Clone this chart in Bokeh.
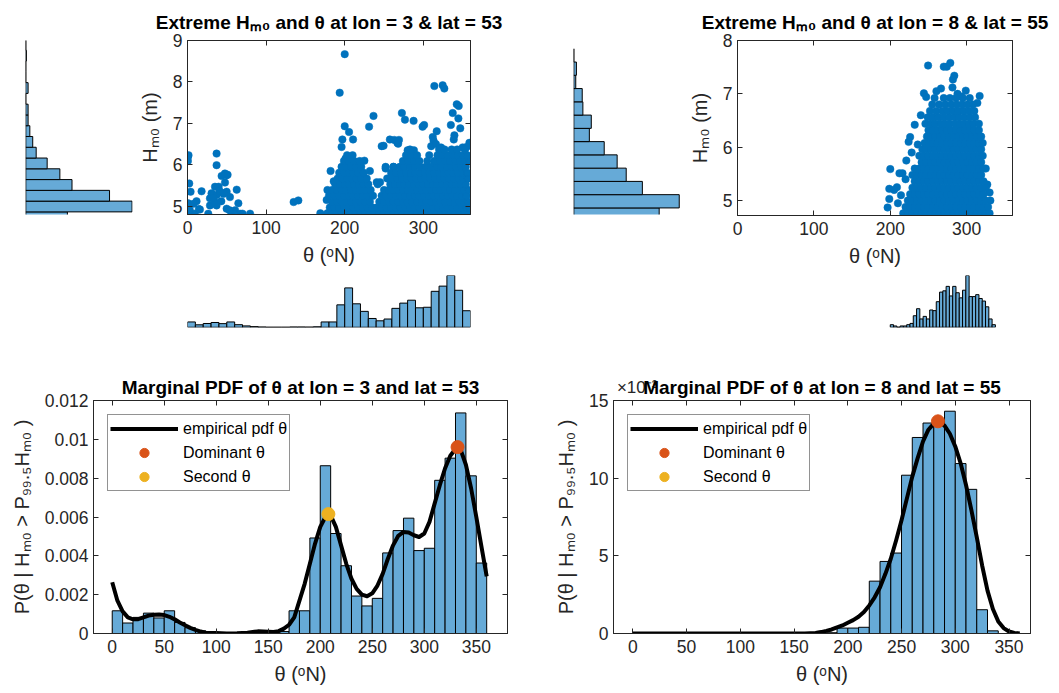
import numpy as np
from bokeh.plotting import figure
from bokeh.layouts import row, column
from bokeh.models import (Range1d, LinearAxis, FixedTicker, CustomJSTickFormatter,
                          Legend, LegendItem, Title)
from bokeh.embed import file_html
from bokeh.resources import INLINE

# ======================= DATA =======================
# ---- Top-left: extreme Hm0 vs theta at lon = 3, lat = 53 ----
sc1_west = [(0.5, 6.19), (0.5, 6.09), (1.3, 6.23), (37, 6.27), (37, 5.99), (2.2, 5.55),
            (3.9, 5.35), (17.9, 5.36), (35, 5.47), (43.4, 5.73), (49.8, 5.75), (47.7, 5.57),
            (62.6, 5.40), (30.6, 5.31), (28.6, 5.19), (32.8, 5.23), (37, 5.27), (11.5, 5.12),
            (0.9, 5.07), (45.6, 5.31), (49.8, 5.35), (54, 5.22), (28.6, 5.02), (37, 5.02),
            (35, 5.10), (64.7, 5.07), (3, 4.90), (15.8, 4.92), (9.4, 4.82), (26.4, 4.82),
            (49.8, 4.94), (56, 4.86), (60.5, 4.90), (66.8, 4.82), (79.6, 4.82), (135, 5.10),
            (141, 5.14), (7.7, 5.06), (14.5, 4.93), (1.7, 4.90), (43, 5.12), (46, 5.30),
            (39.6, 5.47), (40.8, 5.37), (33, 5.20), (53.6, 4.90), (70, 4.82), (47.6, 5.79),
            (51, 5.76)]
sc1_peaks = [(200, 8.67), (193.6, 7.74), (200, 6.93), (205.5, 6.79), (197, 6.61), (196, 6.43),
             (210.6, 6.61), (236.6, 7.18), (231, 6.92), (247, 6.45), (249.4, 6.46), (257.4, 6.61),
             (263, 6.60), (314, 7.90), (324.6, 7.92), (326.7, 7.84), (272.7, 7.25), (276.6, 7.09),
             (287.6, 7.06), (299, 6.92), (301, 6.96), (342.5, 7.46), (345, 7.42), (337.4, 7.25),
             (344.6, 7.12), (335, 6.96), (347, 6.88), (317, 6.81), (339.5, 6.71), (338.7, 6.61),
             (312, 6.67), (267, 6.53), (268, 6.51), (280, 6.35), (313, 6.58), (322.5, 6.42),
             (358.6, 6.53), (350, 6.42), (355, 6.43), (359.5, 6.17), (169, 4.83), (178, 5.39),
             (177, 5.15), (201, 6.15), (218, 6.03), (252, 5.91), (262, 5.95), (240.7, 5.58),
             (245, 5.58), (288, 6.35), (291, 6.20), (307.5, 6.23), (310, 6.45), (316, 6.50),
             (269, 6.60), (225, 6.10), (232, 5.85), (186, 5.60), (182, 5.85)]
# dense core: each row lists the directions of points found near one Hm0 level
sc1_core_h = [4.83, 4.97, 5.11, 5.25, 5.39, 5.53, 5.67, 5.81, 5.95, 6.09, 6.23, 6.37]
sc1_core_theta = [
    [178, 184, 190, 196, 202, 208, 214, 220, 226, 232, 238, 244, 250, 256, 262, 268, 274, 280, 286, 292, 298, 304, 310, 316, 322, 328, 334, 340, 346, 352, 358],
    [181, 187, 193, 199, 205, 211, 217, 223, 229, 235, 241, 247, 253, 259, 265, 271, 277, 283, 289, 295, 301, 307, 313, 319, 325, 331, 337, 343, 349, 355, 359],
    [184, 190, 196, 202, 208, 214, 220, 226, 232, 244, 250, 256, 262, 268, 274, 280, 286, 292, 298, 304, 310, 316, 322, 328, 334, 340, 346, 352, 357],
    [180, 187, 193, 199, 205, 211, 217, 223, 229, 236, 247, 253, 259, 265, 271, 277, 283, 289, 295, 301, 307, 313, 319, 325, 331, 337, 343, 349, 355],
    [184, 190, 196, 202, 208, 214, 220, 226, 233, 250, 256, 262, 268, 274, 280, 286, 292, 298, 304, 310, 316, 322, 328, 334, 340, 346, 352, 358],
    [188, 194, 200, 206, 212, 218, 224, 230, 242, 258, 264, 270, 276, 282, 288, 294, 300, 306, 312, 318, 324, 330, 336, 342, 348, 354],
    [191, 197, 203, 209, 215, 221, 228, 254, 261, 267, 273, 279, 285, 291, 297, 303, 309, 315, 321, 327, 333, 339, 345, 351, 357],
    [193, 199, 205, 211, 217, 224, 259, 265, 272, 278, 284, 290, 296, 302, 308, 314, 320, 326, 332, 338, 344, 350, 356],
    [196, 202, 208, 214, 221, 252, 262, 270, 276, 283, 289, 296, 303, 310, 317, 323, 330, 336, 342, 348, 354],
    [199, 205, 212, 219, 274, 281, 288, 295, 305, 314, 321, 328, 334, 341, 347, 353, 359],
    [203, 210, 278, 285, 292, 318, 325, 331, 338, 344, 350, 356],
    [283, 320, 327, 336, 343, 353],
]
# Hm0 marginal histogram (left), bin edges (m) and counts
hl1_edges = [4.603, 4.863, 5.123, 5.383, 5.643, 5.903, 6.163, 6.423, 6.683, 6.943,
             7.203, 7.463, 7.723, 7.983, 8.243, 8.503, 8.763, 9.023]
hl1_counts = [72, 184, 145, 80, 59, 37, 18, 12, 7, 4, 4, 0, 4, 0, 0, 1, 0]

# ---- Top-right: extreme Hm0 vs theta at lon = 8, lat = 55 ----
sc2_peaks = [(249.5, 7.53), (270, 7.51), (274, 7.51), (278.6, 7.58), (283.8, 7.34), (282, 7.27),
             (281.4, 7.12), (244, 7.01), (247, 6.94), (260.4, 7.05), (266.4, 7.10), (298.8, 7.06),
             (317, 6.96), (314, 6.83), (232, 6.42), (226, 6.19), (224, 6.10), (200, 5.59),
             (212, 5.51), (216, 5.51), (208.7, 5.25), (198.7, 5.22), (198.7, 5.03), (196.5, 4.87),
             (205, 5.20), (331, 5.00), (221, 5.75), (228, 5.90), (236, 6.05), (210, 4.95),
             (214, 5.10), (220, 5.40), (288, 7.00), (293, 6.95), (240, 6.60), (325, 5.60),
             (327, 5.30), (330, 5.15)]
sc2_core_h = [4.76, 4.88, 5.00, 5.12, 5.24, 5.36, 5.48, 5.60, 5.72, 5.84, 5.96, 6.08, 6.20,
              6.32, 6.44, 6.56, 6.68, 6.80, 6.92]
sc2_core_theta = [
    [217, 223, 229, 235, 241, 247, 253, 259, 265, 271, 277, 283, 289, 295, 301, 307, 313, 319, 325, 330],
    [220, 226, 232, 238, 244, 250, 256, 262, 268, 274, 280, 286, 292, 298, 304, 310, 316, 322, 328],
    [223, 229, 235, 241, 247, 253, 259, 265, 271, 277, 283, 289, 295, 301, 307, 313, 319, 325],
    [226, 232, 238, 244, 250, 256, 262, 268, 274, 280, 286, 292, 298, 304, 310, 316, 322],
    [229, 235, 241, 247, 253, 259, 265, 271, 277, 283, 289, 295, 301, 307, 313, 319, 325],
    [232, 238, 244, 250, 256, 262, 268, 274, 280, 286, 292, 298, 304, 310, 316, 322],
    [229, 235, 241, 247, 253, 259, 265, 271, 277, 283, 289, 295, 301, 307, 313, 319],
    [232, 238, 244, 250, 256, 262, 268, 274, 280, 286, 292, 298, 304, 310, 316, 322],
    [241, 247, 253, 259, 265, 271, 277, 283, 289, 295, 301, 307, 313, 319],
    [238, 244, 250, 256, 262, 268, 274, 280, 286, 292, 298, 304, 310, 316, 321],
    [242, 247, 253, 259, 265, 271, 277, 283, 289, 295, 301, 307, 313, 319],
    [245, 251, 256, 262, 268, 274, 280, 286, 292, 298, 304, 310, 316, 321],
    [248, 253, 259, 265, 271, 277, 283, 289, 295, 301, 307, 313, 319],
    [250, 256, 262, 268, 274, 280, 286, 292, 298, 304, 310, 316],
    [246, 253, 259, 266, 272, 278, 285, 291, 297, 303, 309, 316],
    [249, 256, 263, 270, 277, 284, 290, 297, 304, 311],
    [252, 260, 268, 275, 282, 289, 296, 303, 310],
    [255, 264, 272, 280, 287, 294, 301, 308],
    [258, 270, 278, 286, 295, 304],
]
hl2_edges = [4.594, 4.844, 5.094, 5.344, 5.594, 5.844, 6.094, 6.344, 6.594, 6.844,
             7.094, 7.344, 7.594, 7.844]
hl2_counts = [132, 163, 106, 81, 67, 47, 24, 27, 14, 13, 3, 4, 0]
# fine direction histogram under top-right scatter (bins start at 200 deg)
hb2_edges = [200.0, 204.3, 208.6, 212.9, 217.2, 221.5, 225.8, 230.1, 234.4, 238.7, 243.0,
             247.3, 251.6, 255.9, 260.2, 264.5, 268.8, 273.1, 277.4, 281.7, 286.0, 290.3,
             294.6, 298.9, 303.2, 307.5, 311.8, 316.1, 320.4, 324.7, 329.0, 333.3, 337.6]
hb2_counts = [4, 2, 0, 2, 2, 4, 6, 18, 29, 13, 17, 13, 27, 26, 40, 55, 57, 64, 49, 64, 54, 46,
              58, 81, 48, 48, 51, 45, 41, 32, 13, 4]

# ---- Bottom: marginal pdf of theta (10-degree bins) ----
theta_edges = [0, 10, 20, 30, 40, 50, 60, 70, 80, 90, 100, 110, 120, 130, 140, 150, 160, 170,
               180, 190, 200, 210, 220, 230, 240, 250, 260, 270, 280, 290, 300, 310, 320, 330,
               340, 350, 360]
pdf1_hist = [0.00117, 0.00054, 0.00083, 0.00105, 0.00080, 0.00117, 0.00057, 0.00030, 0.00014,
             0.00005, 0.0, 0.0, 0.0, 0.00005, 0.00005, 0.00003, 0.00010, 0.00117, 0.00117,
             0.00492, 0.00864, 0.00515, 0.00349, 0.00193, 0.00142, 0.00181, 0.00415, 0.00530,
             0.00594, 0.00427, 0.00439, 0.00789, 0.00903, 0.01136, 0.00812, 0.00363]
# pdf values at lon 8 / lat 55 in units of 1e-3
pdf2_hist = [0, 0, 0, 0, 0, 0, 0, 0, 0, 0, 0, 0, 0, 0, 0, 0, 0, 0, 0.05, 0.35, 0.35, 0.40,
             3.37, 4.64, 5.18, 10.19, 12.62, 13.55, 13.40, 14.31, 10.94, 9.28, 1.53, 0.17, 0, 0]

kde1_theta = [0, 5, 10, 15, 20, 25, 30, 35, 40, 45, 50, 55, 60, 65, 70, 75, 80, 85, 90, 100,
              110, 120, 130, 140, 150, 155, 160, 165, 170, 175, 180, 185, 190, 195, 200, 205,
              208, 210, 215, 220, 225, 230, 235, 240, 245, 250, 255, 260, 265, 270, 275, 280,
              285, 290, 295, 300, 305, 310, 315, 320, 325, 330, 332, 335, 340, 345, 350, 355, 360]
kde1_pdf = [0.00264, 0.00169, 0.00114, 0.00083, 0.00073, 0.00074, 0.00083, 0.00092, 0.00097,
            0.00098, 0.00095, 0.00086, 0.00073, 0.00057, 0.00043, 0.00029, 0.00019, 0.00010,
            0.00003, 0.00002, 0.0, 0.00001, 0.00004, 0.00011, 0.00009, 0.00008, 0.00012,
            0.00025, 0.00045, 0.00083, 0.00169, 0.00256, 0.00359, 0.00463, 0.00549, 0.00601,
            0.00615, 0.00608, 0.00549, 0.00454, 0.00359, 0.00282, 0.00230, 0.00200, 0.00192,
            0.00207, 0.00247, 0.00307, 0.00385, 0.00454, 0.00503, 0.00523, 0.00520, 0.00506,
            0.00497, 0.00515, 0.00575, 0.00670, 0.00765, 0.00851, 0.00915, 0.00950, 0.00960,
            0.00946, 0.00869, 0.00748, 0.00601, 0.00446, 0.00294]
kde2_theta = [0, 20, 40, 60, 80, 100, 120, 140, 160, 165, 170, 175, 180, 185, 190, 195, 200,
              205, 210, 215, 220, 225, 230, 235, 240, 245, 250, 255, 260, 265, 270, 275, 280,
              284, 285, 290, 295, 300, 305, 310, 315, 320, 325, 330, 335, 340, 345, 350, 355, 360]
kde2_pdf = [0, 0, 0, 0, 0, 0, 0, 0, 0, 0.02, 0.04, 0.09, 0.17, 0.26, 0.39, 0.52, 0.69, 0.86,
            1.08, 1.38, 1.81, 2.33, 2.98, 3.84, 4.81, 6.00, 7.29, 8.70, 10.10, 11.29, 12.37,
            13.12, 13.51, 13.66, 13.64, 13.38, 12.86, 12.04, 10.96, 9.56, 7.94, 6.21, 4.38,
            2.76, 1.58, 0.78, 0.35, 0.13, 0.04, 0.0]
dom1 = (332, 0.0096)
sec1 = (207.8, 0.00615)
dom2 = (283.9, 13.66)
sec2 = (float("nan"), float("nan"))   # no secondary direction at lon 8 / lat 55

# ======================= STYLE =======================
FONT = "Liberation Sans"
AX = "#262626"
BAR = "#66AAD7"
BLUE = "#0072BD"
ORANGE = "#D95319"
YELLOW = "#EDB120"


def fig(w, h, xr, yr, ml, mr, mt, mb, axes=True, title=None):
    kw = dict(width=w, height=h, x_range=Range1d(*xr), y_range=Range1d(*yr),
              output_backend="svg", toolbar_location=None,
              min_border_left=ml, min_border_right=mr, min_border_top=mt, min_border_bottom=mb)
    if not axes:
        kw.update(x_axis_type=None, y_axis_type=None)
    if title is None:
        kw["title"] = None
    p = figure(**kw)
    if title is not None:
        p.title.text = title
        p.title.align = "center"
        p.title.text_font = FONT
        p.title.text_font_size = "19px"
        p.title.text_font_style = "bold"
        p.title.text_color = "black"
    p.grid.visible = False
    p.background_fill_color = "white"
    p.border_fill_color = "white"
    p.outline_line_color = AX if axes else None
    return p


def style_axes(p, xticks, yticks, xlabel, ylabel, yfmt=None):
    p.xaxis.ticker = FixedTicker(ticks=xticks)
    p.yaxis.ticker = FixedTicker(ticks=yticks)
    if yfmt is not None:
        p.yaxis.formatter = yfmt
    p.xaxis.axis_label = xlabel
    p.yaxis.axis_label = ylabel
    for ax in list(p.xaxis) + list(p.yaxis):
        ax.axis_line_color = AX
        ax.major_tick_line_color = AX
        ax.minor_tick_line_color = None
        ax.major_tick_in = 5
        ax.major_tick_out = 0
        ax.major_label_text_font = FONT
        ax.major_label_text_font_size = "17.5px"
        ax.major_label_text_color = AX
        ax.axis_label_text_font = FONT
        ax.axis_label_text_font_size = "20px"
        ax.axis_label_text_font_style = "normal"
        ax.axis_label_text_color = AX
    p.xaxis.major_label_standoff = 6
    p.yaxis.major_label_standoff = 5
    p.xaxis.axis_label_standoff = 7
    p.yaxis.axis_label_standoff = 9
    blank = CustomJSTickFormatter(code="return ''")
    for loc, ticks in (("above", xticks), ("right", yticks)):
        ax = LinearAxis(ticker=FixedTicker(ticks=ticks), formatter=blank,
                        axis_line_color=AX, major_tick_line_color=AX,
                        minor_tick_line_color=None, major_tick_in=5, major_tick_out=0,
                        major_label_text_font_size="1px", major_label_standoff=0)
        p.add_layout(ax, loc)


def expand(west, peaks, core_h, core_theta):
    th = [t for t, _ in west] + [t for t, _ in peaks]
    hh = [h for _, h in west] + [h for _, h in peaks]
    for h, row_t in zip(core_h, core_theta):
        th += row_t
        hh += [h] * len(row_t)
    return th, hh


THETA_LABEL = "θ (ᵒN)"

# ---------------- top-left ----------------
hl1 = fig(135, 340, (-0.5, max(hl1_counts) * 1.004), (4.8, 9.0), 25, 3, 40, 126, axes=False)
hl1.quad(left=0, right=hl1_counts, bottom=hl1_edges[:-1], top=hl1_edges[1:],
         fill_color=BAR, line_color="black", line_width=1)

sc1 = fig(395, 275, (0, 360), (4.8, 9.0), 52, 60, 40, 61,
          title="Extreme Hₘ₀ and θ at lon = 3 & lat = 53")
sc1.title.standoff = 15
t1, h1 = expand(sc1_west, sc1_peaks, sc1_core_h, sc1_core_theta)
sc1.scatter(t1, h1, size=7.5, fill_color=BLUE, line_color=BLUE, line_width=0.5)
style_axes(sc1, [0, 100, 200, 300], [5, 6, 7, 8, 9], THETA_LABEL, "Hₘ₀ (m)")

hb1 = fig(395, 65, (0, 360), (-0.00005, max(pdf1_hist)), 52, 60, 0, 13, axes=False)
hb1.quad(left=theta_edges[:-1], right=theta_edges[1:], bottom=0, top=pdf1_hist,
         fill_color=BAR, line_color="black", line_width=1)

# ---------------- top-right ----------------
hl2 = fig(155, 340, (-0.5, max(hl2_counts) * 1.012), (4.72, 8.0), 43, 5, 40, 125, axes=False)
hl2.quad(left=0, right=hl2_counts, bottom=hl2_edges[:-1], top=hl2_edges[1:],
         fill_color=BAR, line_color="black", line_width=1)

sc2 = fig(374, 275, (0, 360), (4.72, 8.0), 48, 47, 40, 60,
          title="Extreme Hₘ₀ and θ at lon = 8 & lat = 55")
sc2.title.standoff = 15
t2, h2 = expand([], sc2_peaks, sc2_core_h, sc2_core_theta)
sc2.scatter(t2, h2, size=7.5, fill_color=BLUE, line_color=BLUE, line_width=0.5)
style_axes(sc2, [0, 100, 200, 300], [5, 6, 7, 8], THETA_LABEL, "Hₘ₀ (m)")

hb2 = fig(374, 65, (0, 360), (-0.4, max(hb2_counts)), 48, 47, 0, 13, axes=False)
hb2.quad(left=hb2_edges[:-1], right=hb2_edges[1:], bottom=0, top=hb2_counts,
         fill_color=BAR, line_color="black", line_width=1)

# ---------------- bottom ----------------
YLAB = "P(θ | Hₘ₀ > P₉₉.₅Hₘ₀ )"


def pdf_panel(w, ml, mr, xr, yr, hist, kth, kpdf, dom, sec, yticks, yfmt):
    p = fig(w, 353, xr, yr, ml, mr, 60, 60)
    p.quad(left=theta_edges[:-1], right=theta_edges[1:], bottom=0, top=hist,
           fill_color=BAR, line_color="black", line_width=1)
    rl = p.line(kth, kpdf, line_color="black", line_width=4, line_join="round")
    rd = p.scatter([dom[0]], [dom[1]], size=13, fill_color=ORANGE, line_color=ORANGE)
    rs = p.scatter([sec[0]], [sec[1]], size=13, fill_color=YELLOW, line_color=YELLOW)
    style_axes(p, [0, 50, 100, 150, 200, 250, 300, 350], yticks, THETA_LABEL, YLAB, yfmt)
    leg = Legend(items=[LegendItem(label="empirical pdf θ", renderers=[rl]),
                        LegendItem(label="Dominant θ", renderers=[rd]),
                        LegendItem(label="Second θ", renderers=[rs])],
                 location="top_left", margin=14, padding=2, spacing=1,
                 glyph_width=68, glyph_height=23, label_standoff=5,
                 label_text_font=FONT, label_text_font_size="16px",
                 label_text_color="black", border_line_color=AX, border_line_width=1,
                 background_fill_color="white", background_fill_alpha=1)
    p.add_layout(leg)
    return p


def add_title(p, text):
    p.add_layout(Title(text=text, align="center", text_font=FONT, text_font_size="19px",
                       text_font_style="bold", text_color="black", standoff=5), "above")


fmt1 = CustomJSTickFormatter(code="return String(Math.round(tick*1e6)/1e6)")
pdf1 = pdf_panel(530, 93, 23, (-18, 380), (0, 0.012), pdf1_hist, kde1_theta,
                 kde1_pdf, dom1, sec1, [0, 0.002, 0.004, 0.006, 0.008, 0.01, 0.012], fmt1)
add_title(pdf1, "Marginal PDF of θ at lon = 3 and lat = 53")
pdf2 = pdf_panel(529, 83, 29, (-18, 370), (0, 15), pdf2_hist, kde2_theta, kde2_pdf,
                 dom2, sec2, [0, 5, 10, 15], None)
add_title(pdf2, "Marginal PDF of θ at lon = 8 and lat = 55")
# y-axis multiplier (x10^-3) at the top-left corner of the axes, on the title line
exp_axis = LinearAxis(ticker=FixedTicker(ticks=[4]),
                      formatter=CustomJSTickFormatter(code="return '\u00d710\u207b\u00b3'"),
                      axis_line_color=None, major_tick_line_color=None,
                      minor_tick_line_color=None, major_tick_in=0, major_tick_out=0,
                      major_label_standoff=-24,
                      major_label_text_font=FONT, major_label_text_font_size="17px",
                      major_label_text_color=AX)
pdf2.add_layout(exp_axis, "above")

layout = column(
    row(hl1, column(sc1, hb1), hl2, column(sc2, hb2)),
    row(pdf1, pdf2),
)

open("out.html", "w").write(file_html(layout, INLINE))
